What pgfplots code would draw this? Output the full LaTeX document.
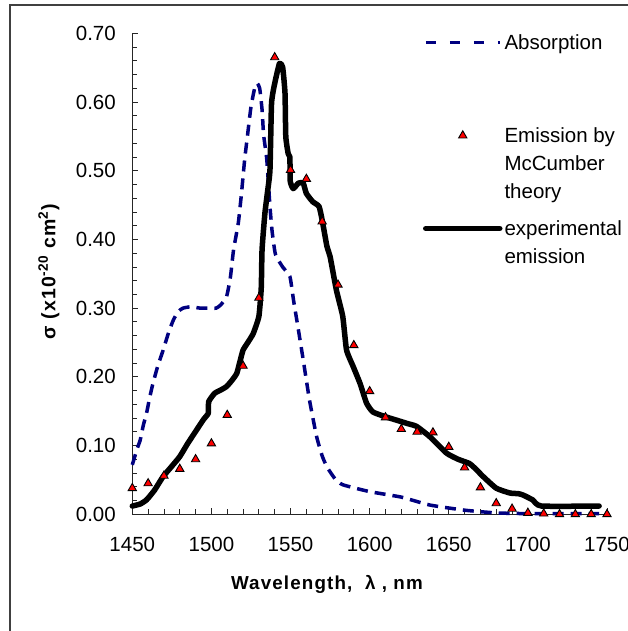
\documentclass[border=0pt]{standalone}
\usepackage{pgfplots}
\pgfplotsset{compat=1.18}
\usepackage{fontspec}
\setmainfont{Liberation Sans}
\definecolor{absnavy}{RGB}{0,0,128}
\pgfplotsset{
  absstyle/.style={color=absnavy, line width=3.5pt, dash pattern=on 11pt off 7pt, mark=none},
  expstyle/.style={color=black, line width=5.5pt, line join=round, line cap=round, mark=none},
  mcstyle/.style={only marks, mark=triangle*, mark size=4.8pt, mark options={fill=red, draw=black, line width=0.9pt, solid}},
  mylegimg/.style={legend image code/.code={\draw[mark repeat=2,mark phase=2,##1] plot coordinates {(0pt,7.4pt) (37pt,7.4pt) (74pt,7.4pt)};}},
}
\begin{document}
\begin{tikzpicture}[x=1pt,y=1pt]
\useasboundingbox (0,0) rectangle (628,631);
\draw[line width=1.5pt, black!75] (10,0) -- (10,626) -- (628,626);
\begin{axis}[
  at={(132.3pt,116.7pt)}, anchor=south west,
  scale only axis, width=474.7pt, height=481pt,
  xmin=1450, xmax=1750, ymin=0, ymax=0.7,
  clip=false,
  axis x line*=bottom, axis y line*=left,
  axis line style={line width=0.8pt, black!85},
  xtick={1450,1500,...,1750},
  ytick={0,0.1,...,0.7},
  minor x tick num=4, minor y tick num=4,
  tick align=inside,
  major tick length=6pt, minor tick length=5pt,
  tick style={line width=0.8pt, black!85},
  /pgf/number format/assume math mode=true,
  tick label style={font=\fontsize{20.5}{24}\selectfont},
  x tick label style={/pgf/number format/1000 sep={}, yshift=-19pt},
  y tick label style={/pgf/number format/fixed, /pgf/number format/fixed zerofill, /pgf/number format/precision=2, xshift=-13pt},
  scaled y ticks=false,
  xlabel={Wavelength,\ \ λ , nm},
  xlabel style={at={(axis description cs:0.410,-0.156)}, anchor=base, font=\bfseries\fontsize{18.8}{22}\selectfont\addfontfeature{LetterSpace=6}},
  ylabel={σ (x10\textsuperscript{-20} cm\textsuperscript{2})},
  ylabel style={at={(axis description cs:-0.1755,0.504)}, anchor=center, font=\bfseries\fontsize{19.5}{22}\selectfont\addfontfeature{LetterSpace=6}},
  legend style={at={(axis description cs:0.6124,0.9965)}, anchor=north west, draw=none, fill=none,
    inner sep=0pt, outer sep=0pt, row sep=8pt, column sep=2pt,
    font=\fontsize{20.5}{28}\selectfont,
    nodes={inner sep=0pt, text height=15pt, text depth=70pt},
    cells={anchor=base west}},
]
\addlegendimage{absstyle, dash pattern=on 10pt off 14pt, mylegimg}
\addlegendentry{Absorption}
\addlegendimage{mcstyle, mylegimg}
\addlegendentry{\begin{tabular}[t]{@{}l@{}}Emission by\\McCumber\\theory\end{tabular}}
\addlegendimage{expstyle, mylegimg}
\addlegendentry{\begin{tabular}[t]{@{}l@{}}experimental\\emission\end{tabular}}

\addplot[absstyle, forget plot, smooth, tension=0.3] coordinates {
(1450,0.072) (1453,0.095) (1455,0.108) (1457,0.13) (1459,0.147) (1461,0.17) (1463,0.19) (1466,0.215) (1469.5,0.239) (1473,0.265) (1476,0.283) (1479,0.295) (1482,0.300) (1487,0.302) (1493,0.300) (1498,0.300) (1503,0.300) (1506,0.305) (1509.6,0.317) (1512,0.345) (1514,0.385) (1517,0.424) (1519,0.467) (1521,0.516) (1523,0.555) (1525,0.593) (1527.5,0.622) (1529,0.627) (1530.5,0.62) (1532,0.589) (1533,0.552) (1535,0.516) (1537,0.448) (1538.4,0.411) (1540.5,0.378) (1545,0.36) (1549.6,0.346) (1552,0.31) (1555,0.268) (1558,0.225) (1562,0.166) (1566.5,0.113) (1570,0.085) (1573,0.069) (1578,0.052) (1583,0.043) (1600,0.033) (1620,0.025) (1638,0.0135) (1660,0.006) (1680,0.002) (1700,0.001) (1745,0.001)
};
\addplot[expstyle, forget plot, smooth, tension=0.3] coordinates {
(1450,0.012) (1455,0.015) (1459,0.021) (1464,0.035) (1469.5,0.055) (1475,0.07) (1480,0.084) (1485,0.103) (1490.7,0.123) (1495,0.138) (1498,0.147) (1498.3,0.164) (1502,0.176) (1506,0.181) (1509.6,0.186) (1513,0.195) (1516,0.205) (1518,0.222) (1520,0.239) (1523,0.25) (1526.4,0.263) (1530,0.288) (1531.5,0.33) (1532,0.385) (1533.8,0.438) (1535.5,0.47) (1537,0.501) (1538,0.598) (1540,0.627) (1543,0.656) (1545,0.651) (1546.5,0.613) (1547,0.55) (1548.5,0.525) (1549.6,0.52) (1549.8,0.485) (1551.7,0.474) (1555,0.482) (1558,0.482) (1560,0.467) (1564,0.455) (1568,0.448) (1570,0.428) (1573,0.39) (1575,0.375) (1579,0.326) (1583,0.288) (1585.4,0.239) (1589.6,0.215) (1594,0.19) (1598,0.162) (1602,0.149) (1610,0.142) (1617,0.137) (1624,0.132) (1629.6,0.128) (1638,0.113) (1648.6,0.089) (1656,0.08) (1663,0.074) (1667,0.066) (1671.7,0.055) (1680,0.038) (1688.6,0.031) (1694,0.03) (1697,0.028) (1703,0.021) (1708.6,0.012) (1745,0.012)
};
\addplot[mcstyle, forget plot] coordinates {
(1450,0.038) (1460,0.045) (1470,0.056) (1480,0.066) (1490,0.080) (1500,0.103) (1510,0.1445) (1520,0.216) (1530,0.315) (1540,0.665) (1550,0.501) (1560,0.488) (1570,0.426) (1580,0.334) (1590,0.246) (1600,0.179) (1610,0.141) (1620,0.124) (1630,0.120) (1640,0.119) (1650,0.098) (1660,0.068) (1670,0.039) (1680,0.016) (1690,0.008) (1700,0.002) (1710,0.001) (1720,0) (1730,0) (1740,0) (1750,0)
};
\end{axis}
\end{tikzpicture}
\end{document}
